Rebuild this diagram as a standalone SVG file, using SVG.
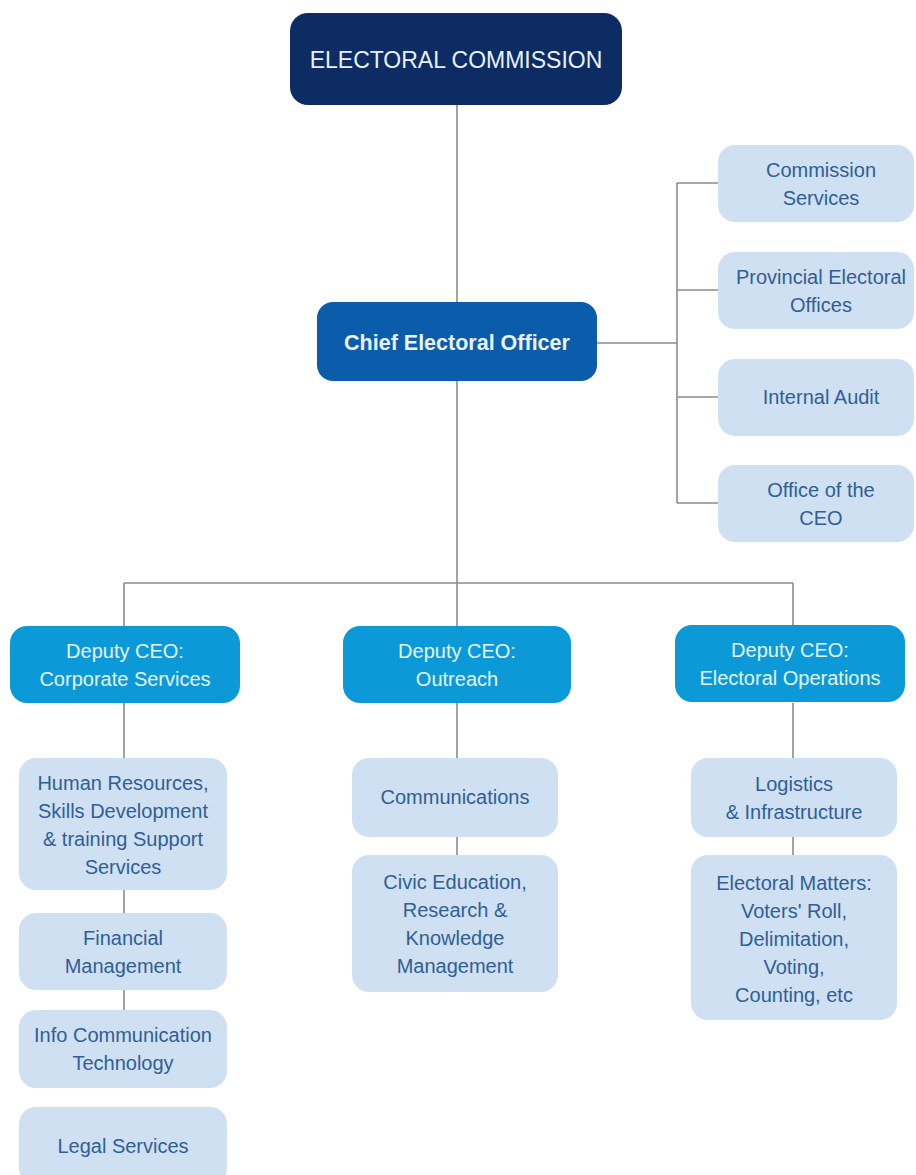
<svg xmlns="http://www.w3.org/2000/svg" width="916" height="1175" viewBox="0 0 916 1175">
<style>
.ln{stroke:#8c8c8c;stroke-width:1.6;fill:none}
.t{font-family:"Liberation Sans",Arial,sans-serif;text-anchor:middle}
.lb{fill:#cfe0f2}
.lt{fill:#2f5f96;font-size:20px}
.dp{fill:#0b9ad7}
.dt{fill:#e3f5ff;font-size:20px}
</style>
<rect width="916" height="1175" fill="#ffffff"/>
<g id="connectors">
<path class="ln" d="M457 105V302M597 343H677M677 183V503M677 183H718M677 290H718M677 397H718M677 503H718M457 381V583M124 583H793M124 583V626M457 583V626M793 583V626M124 703V758M124 890V913M124 990V1010M457 703V758M457 837V855M793 703V758M793 837V855"/>
</g>
<g id="electoral-commission">
<rect x="290" y="13" width="332" height="92" rx="18" fill="#0c2c63"/>
<text class="t" x="456" y="68" font-size="23" fill="#e8f1ff">ELECTORAL COMMISSION</text>
</g>
<g id="ceo">
<rect x="317" y="302" width="280" height="79" rx="16" fill="#0b5cab"/>
<text class="t" x="457" y="350" font-size="21.5" font-weight="bold" fill="#e8f3ff">Chief Electoral Officer</text>
</g>
<g id="commission-services">
<rect class="lb" x="718" y="145" width="196" height="77" rx="17"/>
<text class="t lt" x="821" y="177">Commission</text>
<text class="t lt" x="821" y="205">Services</text>
</g>
<g id="provincial-electoral-offices">
<rect class="lb" x="718" y="252" width="196" height="77" rx="17"/>
<text class="t lt" x="821" y="284">Provincial Electoral</text>
<text class="t lt" x="821" y="312">Offices</text>
</g>
<g id="internal-audit">
<rect class="lb" x="718" y="359" width="196" height="77" rx="17"/>
<text class="t lt" x="821" y="404">Internal Audit</text>
</g>
<g id="office-of-the-ceo">
<rect class="lb" x="718" y="465" width="196" height="77" rx="17"/>
<text class="t lt" x="821" y="497">Office of the</text>
<text class="t lt" x="821" y="525">CEO</text>
</g>
<g id="dceo-corporate">
<rect class="dp" x="10" y="626" width="230" height="77" rx="17"/>
<text class="t dt" x="125" y="658">Deputy CEO:</text>
<text class="t dt" x="125" y="686">Corporate Services</text>
</g>
<g id="dceo-outreach">
<rect class="dp" x="343" y="626" width="228" height="77" rx="17"/>
<text class="t dt" x="457" y="658">Deputy CEO:</text>
<text class="t dt" x="457" y="686">Outreach</text>
</g>
<g id="dceo-operations">
<rect class="dp" x="675" y="625" width="230" height="77" rx="17"/>
<text class="t dt" x="790" y="657">Deputy CEO:</text>
<text class="t dt" x="790" y="685">Electoral Operations</text>
</g>
<g id="human-resources">
<rect class="lb" x="19" y="758" width="208" height="132" rx="17"/>
<text class="t lt" x="123" y="790">Human Resources,</text>
<text class="t lt" x="123" y="818">Skills Development</text>
<text class="t lt" x="123" y="846">&amp; training Support</text>
<text class="t lt" x="123" y="874">Services</text>
</g>
<g id="financial-management">
<rect class="lb" x="19" y="913" width="208" height="77" rx="17"/>
<text class="t lt" x="123" y="945">Financial</text>
<text class="t lt" x="123" y="973">Management</text>
</g>
<g id="ict">
<rect class="lb" x="19" y="1010" width="208" height="78" rx="17"/>
<text class="t lt" x="123" y="1042">Info Communication</text>
<text class="t lt" x="123" y="1070">Technology</text>
</g>
<g id="legal-services">
<rect class="lb" x="19" y="1107" width="208" height="78" rx="17"/>
<text class="t lt" x="123" y="1153">Legal Services</text>
</g>
<g id="communications">
<rect class="lb" x="352" y="758" width="206" height="79" rx="17"/>
<text class="t lt" x="455" y="804">Communications</text>
</g>
<g id="civic-education">
<rect class="lb" x="352" y="855" width="206" height="137" rx="17"/>
<text class="t lt" x="455" y="889">Civic Education,</text>
<text class="t lt" x="455" y="917">Research &amp;</text>
<text class="t lt" x="455" y="945">Knowledge</text>
<text class="t lt" x="455" y="973">Management</text>
</g>
<g id="logistics">
<rect class="lb" x="691" y="758" width="206" height="79" rx="17"/>
<text class="t lt" x="794" y="791">Logistics</text>
<text class="t lt" x="794" y="819">&amp; Infrastructure</text>
</g>
<g id="electoral-matters">
<rect class="lb" x="691" y="855" width="206" height="165" rx="17"/>
<text class="t lt" x="794" y="890">Electoral Matters:</text>
<text class="t lt" x="794" y="918">Voters' Roll,</text>
<text class="t lt" x="794" y="946">Delimitation,</text>
<text class="t lt" x="794" y="974">Voting,</text>
<text class="t lt" x="794" y="1002">Counting, etc</text>
</g>
</svg>
